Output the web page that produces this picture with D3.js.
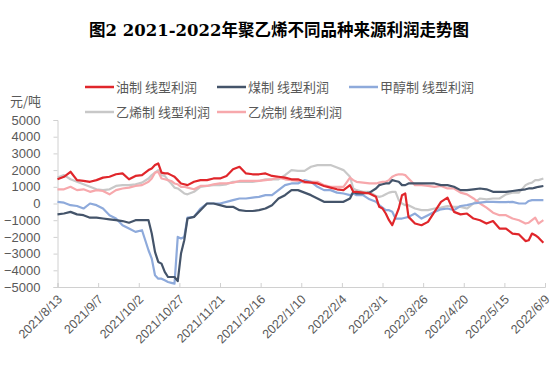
<!DOCTYPE html>
<html><head><meta charset="utf-8">
<script src="https://cdn.jsdelivr.net/npm/d3@7"></script>
<style>body{margin:0;background:#fff}</style>
</head><body>
<svg id="c" width="558" height="369"></svg>
<script>
const titleText = "图2 2021-2022年聚乙烯不同品种来源利润走势图";
const unitLabel = "元/吨";
const seriesNames = ["油制 线型利润","煤制 线型利润","甲醇制 线型利润","乙烯制 线型利润","乙烷制 线型利润"];
const xTickLabels = ["2021/8/13","2021/9/7","2021/10/2","2021/10/27","2021/11/21","2021/12/16","2022/1/10","2022/2/4","2022/3/1","2022/3/26","2022/4/20","2022/5/15","2022/6/9"];
const yTicks = [5000,4000,3000,2000,1000,0,-1000,-2000,-3000,-4000,-5000];
const dates = ["2021-08-13","2021-08-17","2021-08-21","2021-08-25","2021-08-29","2021-09-02","2021-09-06","2021-09-10","2021-09-14","2021-09-18","2021-09-22","2021-09-26","2021-09-30","2021-10-04","2021-10-08","2021-10-10","2021-10-12","2021-10-14","2021-10-16","2021-10-18","2021-10-20","2021-10-22","2021-10-24","2021-10-26","2021-10-28","2021-10-30","2021-11-01","2021-11-05","2021-11-09","2021-11-13","2021-11-17","2021-11-21","2021-11-25","2021-11-29","2021-12-03","2021-12-07","2021-12-11","2021-12-15","2021-12-19","2021-12-23","2021-12-27","2021-12-31","2022-01-04","2022-01-08","2022-01-12","2022-01-16","2022-01-20","2022-01-24","2022-01-28","2022-02-01","2022-02-05","2022-02-09","2022-02-11","2022-02-13","2022-02-17","2022-02-21","2022-02-25","2022-02-27","2022-03-01","2022-03-03","2022-03-05","2022-03-07","2022-03-09","2022-03-11","2022-03-13","2022-03-15","2022-03-17","2022-03-21","2022-03-25","2022-03-29","2022-04-02","2022-04-06","2022-04-10","2022-04-14","2022-04-18","2022-04-22","2022-04-26","2022-04-30","2022-05-04","2022-05-08","2022-05-12","2022-05-16","2022-05-20","2022-05-24","2022-05-28","2022-05-30","2022-06-01","2022-06-03","2022-06-05","2022-06-08"];
const oilProfit = [1450,1600,1900,1400,1350,1300,1400,1550,1600,1750,1800,1450,1650,1700,2000,2100,2300,2400,1850,1800,1800,1700,1600,1400,1200,1150,1100,1300,1400,1400,1500,1500,1650,2050,2200,1800,1750,1750,1800,1650,1600,1550,1450,1450,1300,1250,1200,1050,950,850,800,1100,700,700,650,600,400,-200,-300,-600,-1000,-1300,-800,-300,500,600,-800,-1200,-1300,-1100,-500,100,350,-500,-650,-600,-900,-1000,-1200,-1050,-1500,-1500,-1800,-1850,-2250,-2200,-1800,-1900,-2050,-2350];
const coalProfit = [-650,-600,-500,-650,-700,-850,-850,-900,-950,-1000,-1050,-1150,-1000,-1000,-1000,-1800,-2900,-3500,-3600,-4100,-4400,-4400,-4400,-4650,-3000,-2200,-900,-800,-400,0,0,-100,-200,-200,-400,-450,-450,-400,-300,-100,300,500,800,800,650,500,300,100,100,100,100,300,700,600,600,650,900,1100,1150,1200,1200,1400,1350,1300,1100,1100,1200,1200,1200,1200,1200,1100,1100,1000,800,800,850,900,850,700,700,700,750,800,850,900,900,950,1000,1050];
const methanolProfit = [100,50,-100,-150,-300,0,-100,-300,-700,-900,-1300,-1500,-1700,-1600,-2800,-3300,-4300,-4500,-4500,-4600,-4700,-4750,-4800,-2000,-2100,-2000,-850,-800,-300,0,0,0,100,200,300,300,350,400,500,500,800,1100,1200,1200,1400,1300,1000,800,800,650,600,500,600,500,500,250,100,-100,-250,-400,-400,-500,-900,-900,-900,-850,-800,-600,-900,-700,-500,-350,-300,-400,-150,-100,0,50,100,100,80,80,100,0,0,150,200,200,200,200];
const ethyleneProfit = [1550,1700,1450,1300,1150,1000,850,800,850,1050,1100,1100,1150,1250,1500,1700,1850,2000,1700,1650,1400,1200,950,900,750,600,550,700,1000,1050,1100,1100,1150,1300,1300,1300,1300,1350,1450,1450,1450,1700,2000,1950,1950,2200,2300,2300,2300,2150,2000,1600,900,800,700,700,450,400,450,550,650,700,700,200,0,-100,-100,-300,-400,-400,-300,-250,-150,-200,-200,-300,0,300,250,300,300,550,650,650,1100,1200,1250,1400,1400,1500];
const ethaneProfit = [850,850,1000,800,850,700,800,750,550,800,900,950,1050,1100,1300,1500,1850,1900,1500,1450,1400,1350,1200,1150,1000,1000,950,850,1050,1050,1150,1200,1200,1250,1350,1350,1350,1350,1400,1450,1550,1450,1400,1350,1250,1300,1300,1100,1000,1000,1000,1550,1400,1300,1250,1200,1200,1250,1300,1300,1400,1600,1700,1750,1750,1700,1500,1100,1100,1050,1000,1050,900,900,650,550,300,0,-250,-550,-700,-700,-900,-1000,-1200,-1150,-1000,-850,-1200,-1000];
const seriesValues = [oilProfit, coalProfit, methanolProfit, ethyleneProfit, ethaneProfit];
const colors = ["#e0262b","#44546a","#8eaadb","#c8c8c8","#f7a8ac"];

const parse = d3.timeParse("%Y-%m-%d");
const tickParse = d3.timeParse("%Y/%m/%d");
const svg = d3.select("#c");
const font = "'Noto Sans CJK SC', 'Liberation Sans', sans-serif";
const numFont = "'Liberation Sans', Arial, sans-serif";
const x = d3.scaleTime().domain([tickParse(xTickLabels[0]), tickParse(xTickLabels[xTickLabels.length-1])]).range([57.5, 545]);
const y = d3.scaleLinear().domain([-5000, 5000]).range([287, 120]);

// title
svg.append("text").attr("x", 279).attr("y", 36).attr("text-anchor","middle")
  .attr("font-family","'DejaVu Serif','Noto Sans CJK SC',serif").attr("font-weight","bold")
  .attr("font-size",16.5).attr("fill","#000").text(titleText);

// unit
svg.append("text").attr("x",10).attr("y",106).attr("font-family",font).attr("font-size",13).attr("fill","#595959").text(unitLabel);

// legend
const leg = svg.append("g");
seriesNames.forEach((n,i)=>{
  const lx = 85 + (i%3)*132, ly = 87 + Math.floor(i/3)*25;
  leg.append("line").attr("x1",lx).attr("x2",lx+29).attr("y1",ly).attr("y2",ly).attr("stroke",colors[i]).attr("stroke-width",2.5);
  leg.append("text").attr("x",lx+31).attr("y",ly+4.5).attr("font-family",font).attr("font-size",13).attr("fill","#595959").text(n);
});

// y axis
const yAxis = svg.append("g").attr("transform","translate(57.5,0)")
  .call(d3.axisLeft(y).tickValues(yTicks).tickSize(4).tickPadding(13).tickFormat(d3.format("d")));
yAxis.selectAll("text").attr("font-family",numFont).attr("font-size",13).attr("fill","#595959");
yAxis.selectAll("line").attr("stroke","#d0d0d0");
yAxis.select(".domain").attr("stroke","#d0d0d0");

// x axis
const xAxis = svg.append("g").attr("transform","translate(0,287)")
  .call(d3.axisBottom(x).tickValues(xTickLabels.map(tickParse)).tickSize(-4).tickFormat(d3.timeFormat("%Y/%-m/%-d")));
xAxis.select(".domain").attr("stroke","#d0d0d0");
xAxis.selectAll("line").attr("stroke","#d0d0d0");
xAxis.selectAll("text").attr("font-family",numFont).attr("font-size",12.5).attr("fill","#595959")
  .attr("text-anchor","end").attr("dy",0).attr("y",0)
  .attr("transform","translate(5,13) rotate(-45)");

// lines
const line = d3.line().x((d,i)=>x(parse(dates[i]))).y(d=>y(d));
[3,4,2,1,0].forEach(i=>{
  svg.append("path").datum(seriesValues[i]).attr("fill","none").attr("stroke",colors[i])
    .attr("stroke-width",2.2).attr("stroke-linejoin","round").attr("d",line);
});
</script>
</body></html>
